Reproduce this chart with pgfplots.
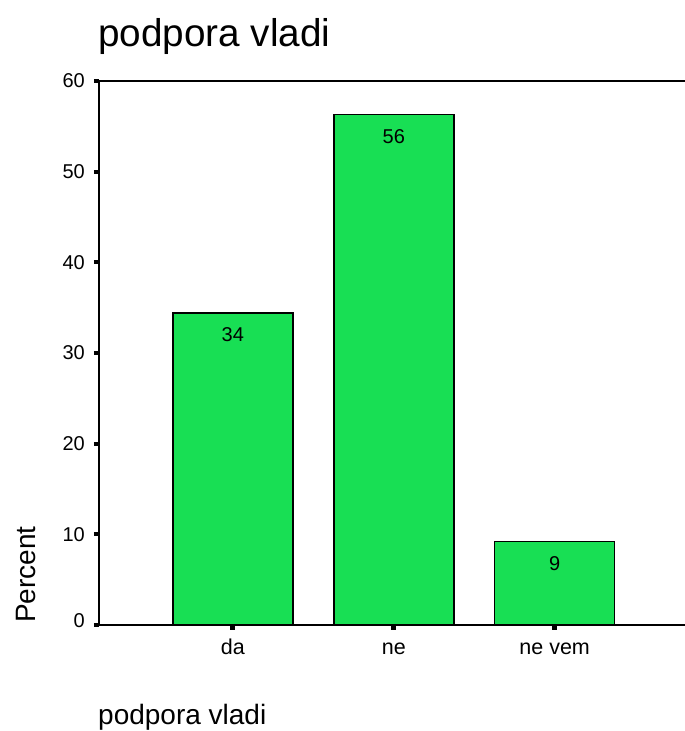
\documentclass[border=0pt]{standalone}
\usepackage{pgfplots}
\pgfplotsset{compat=1.18}
\usepackage{fontspec}
\setmainfont{Liberation Sans}
\definecolor{bargreen}{RGB}{24,223,84}
\begin{document}
\begin{tikzpicture}[x=1pt,y=1pt]
\useasboundingbox (0,0) rectangle (685,731);
\begin{axis}[
  at={(99pt,106pt)}, anchor=south west,
  scale only axis, width=586pt, height=544pt,
  xmin=-0.832, xmax=2.81, ymin=0, ymax=60,
  axis lines*=left,
  axis line style={line width=2pt, black},
  clip=false,
  xtick={0,1,2}, xticklabels={da,ne,ne vem},
  ytick={0,10,20,30,40,50,60},
  yticklabels={\raisebox{8pt}{0},10,20,30,40,50,60},
  tick align=outside, major tick length=5pt,
  xtick style={line width=5pt, black},
  ytick style={line width=4pt, black},
  /pgf/number format/assume math mode=true,
  ticklabel style={inner sep=0pt},
  xticklabel style={font=\fontsize{21.5}{25}\selectfont, anchor=base, yshift=-25pt},
  yticklabel style={font=\fontsize{20}{24}\selectfont, anchor=east, xshift=-9pt},
  ybar, bar width=120pt, bar shift=0pt,
  nodes near coords={\pgfmathprintnumber[fixed,precision=0]{\pgfplotspointmeta}},
  every node near coord/.append style={font=\fontsize{20}{24}\selectfont, anchor=center, yshift=-22pt, black},
]
\addplot[fill=bargreen, draw=black, line width=1.5pt] coordinates {(0,34.4) (1,56.3) (2,9.2)};
\draw[line width=2pt, black] (rel axis cs:0,1) -- (rel axis cs:1,1);
\end{axis}
\node[anchor=base west, inner sep=0pt, font=\fontsize{38.7}{46}\selectfont] at (98,684) {podpora vladi};
\node[anchor=base west, inner sep=0pt, font=\fontsize{28}{33}\selectfont] at (98,6) {podpora vladi};
\node[anchor=base west, inner sep=0pt, rotate=90, font=\fontsize{28}{33}\selectfont] at (35,108) {Percent};
\end{tikzpicture}
\end{document}
